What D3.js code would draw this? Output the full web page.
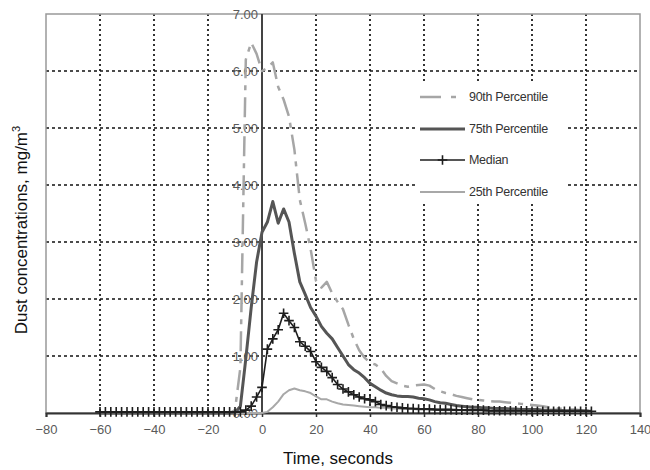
<!DOCTYPE html>
<html>
<head>
<meta charset="utf-8">
<script src="https://cdn.jsdelivr.net/npm/d3@7"></script>
<style>
  html, body { margin: 0; padding: 0; background: #fff; }
  svg { display: block; font-family: "Liberation Sans", Arial, sans-serif; }
</style>
</head>
<body>
<svg id="chart" width="650" height="470"></svg>
<script>
// ---- data ----
const times = [
  -60,-58,-56,-54,-52,-50,-48,-46,-44,-42,
  -40,-38,-36,-34,-32,-30,-28,-26,-24,-22,
  -20,-18,-16,-14,-12,-10,-8,-6,-4,-2,
  0,2,4,6,8,10,12,14,16,18,
  20,22,24,26,28,30,32,34,36,38,
  40,42,44,46,48,50,52,54,56,58,
  60,62,64,66,68,70,72,74,76,78,
  80,82,84,86,88,90,92,94,96,98,
  100,102,104,106,108,110,112,114,116,118,
  120,122
];
const p90 = [
  0,0,0,0,0,0,0,0,0,0,
  0,0,0,0,0,0,0,0,0,0,
  0,0,0,0,0,0.05,0.8,6.2,6.5,6.3,
  6.0,6.05,6.15,5.72,5.5,5.2,4.62,3.74,3.33,2.88,
  2.32,2.2,2.3,2.1,1.95,1.82,1.55,1.3,1.1,0.97,
  0.88,0.85,0.78,0.65,0.56,0.52,0.48,0.46,0.48,0.49,
  0.5,0.48,0.42,0.38,0.35,0.33,0.3,0.28,0.26,0.24,
  0.23,0.22,0.21,0.2,0.2,0.19,0.18,0.17,0.16,0.15,
  0.14,0.13,0.12,0.1,0.09,0.08,0.07,0.06,0.06,0.05,
  0.05,0.04
];
const p75 = [
  0,0,0,0,0,0,0,0,0,0,
  0,0,0,0,0,0,0,0,0,0,
  0,0,0,0,0,0.01,0.12,0.95,1.85,2.65,
  3.17,3.35,3.71,3.33,3.58,3.35,2.8,2.3,2.08,1.85,
  1.7,1.52,1.4,1.3,1.15,1.0,0.85,0.76,0.7,0.62,
  0.52,0.46,0.4,0.35,0.32,0.3,0.29,0.29,0.28,0.26,
  0.25,0.23,0.2,0.18,0.17,0.15,0.13,0.12,0.11,0.1,
  0.1,0.09,0.09,0.08,0.08,0.08,0.07,0.07,0.06,0.06,
  0.06,0.06,0.05,0.05,0.05,0.05,0.04,0.04,0.04,0.04,
  0.03,0.03
];
const median = [
  0.02,0.02,0.02,0.02,0.02,0.02,0.02,0.02,0.02,0.02,
  0.02,0.02,0.02,0.02,0.02,0.02,0.02,0.02,0.02,0.02,
  0.02,0.02,0.02,0.02,0.02,0.02,0.02,0.05,0.12,0.28,
  0.45,1.12,1.3,1.46,1.75,1.62,1.5,1.25,1.17,1.08,
  0.9,0.8,0.73,0.62,0.5,0.42,0.37,0.32,0.28,0.25,
  0.23,0.2,0.15,0.13,0.11,0.1,0.09,0.08,0.08,0.07,
  0.07,0.07,0.06,0.06,0.06,0.06,0.05,0.05,0.05,0.05,
  0.05,0.05,0.04,0.04,0.04,0.04,0.04,0.04,0.04,0.04,
  0.03,0.03,0.03,0.03,0.03,0.03,0.03,0.03,0.03,0.03,
  0.03,0.03
];
const p25 = [
  0,0,0,0,0,0,0,0,0,0,
  0,0,0,0,0,0,0,0,0,0,
  0,0,0,0,0,0,0,0,0,0,
  0,0.02,0.1,0.2,0.33,0.4,0.43,0.4,0.38,0.35,
  0.29,0.24,0.24,0.2,0.17,0.15,0.14,0.13,0.12,0.11,
  0.1,0.1,0.09,0.09,0.08,0.08,0.07,0.07,0.07,0.06,
  0.06,0.06,0.06,0.05,0.05,0.05,0.05,0.05,0.04,0.04,
  0.04,0.04,0.04,0.04,0.04,0.04,0.04,0.04,0.04,0.04,
  0.03,0.03,0.03,0.03,0.03,0.03,0.03,0.03,0.03,0.03,
  0.03,0.03
];
const xTicks = [-80,-60,-40,-20,0,20,40,60,80,100,120,140];
const yTicks = [0,1,2,3,4,5,6,7];
const seriesNames = ["90th Percentile","75th Percentile","Median","25th Percentile"];
const xTitle = "Time, seconds";
const yTitle = "Dust concentrations, mg/m";

// ---- layout ----
const svg = d3.select("#chart");
const L = 46, R = 640, T = 14, B = 413;
const x = d3.scaleLinear().domain([-80, 140]).range([L, R]);
const y = d3.scaleLinear().domain([0, 7]).range([B, T]);

// grid
const grid = svg.append("g");
grid.selectAll("line.v").data(xTicks.filter(d => d !== -80 && d !== 0 && d !== 140))
  .enter().append("line")
  .attr("x1", d => x(d)).attr("x2", d => x(d))
  .attr("y1", y(7)).attr("y2", y(0))
  .attr("stroke", "#111").attr("stroke-width", 1.7).attr("stroke-dasharray", "2,3");
grid.selectAll("line.h").data(yTicks.filter(d => d > 0 && d < 7))
  .enter().append("line")
  .attr("x1", x(-80)).attr("x2", x(140))
  .attr("y1", d => y(d)).attr("y2", d => y(d))
  .attr("stroke", "#111").attr("stroke-width", 1.7).attr("stroke-dasharray", "3,3");

// frame
svg.append("rect").attr("x", L).attr("y", T).attr("width", R - L).attr("height", B - T)
  .attr("fill", "none").attr("stroke", "#999").attr("stroke-width", 1.5);

// y tick labels along x = 0
svg.append("g").selectAll("text").data(yTicks).enter().append("text")
  .attr("x", x(0) - 4).attr("y", d => y(d)).attr("dy", "0.35em")
  .attr("text-anchor", "end").attr("font-size", 13).attr("fill", "#5a5a5a")
  .text(d => d3.format(".2f")(d));

// x axis
const xAxis = svg.append("g").attr("transform", `translate(0,${y(0)})`)
  .call(d3.axisBottom(x).tickValues(xTicks).tickSize(4).tickPadding(8).tickFormat(d3.format("d")));
xAxis.select(".domain").attr("stroke", "#333").attr("stroke-width", 2);
xAxis.selectAll(".tick line").attr("stroke", "#333").attr("stroke-width", 1.5);
xAxis.selectAll(".tick text").attr("font-size", 13).attr("fill", "#5a5a5a")
  .attr("font-family", "Liberation Sans, Arial, sans-serif");

// legend background
const lg = svg.append("g");
lg.append("rect").attr("x", 416).attr("y", 82).attr("width", 150).attr("height", 122).attr("fill", "#fff");

// y axis line at x=0
svg.append("line").attr("x1", x(0)).attr("x2", x(0)).attr("y1", y(7)).attr("y2", y(0))
  .attr("stroke", "#444").attr("stroke-width", 2);

// data
const rows = times.map((t, i) => ({t, p90: p90[i], p75: p75[i], med: median[i], p25: p25[i]}));
const mk = key => d3.line().x(d => x(d.t)).y(d => y(d[key]));

const styles = {
  p90: {stroke: "#a6a6a6", width: 2.5, dash: "20,7,5,7"},
  p75: {stroke: "#555555", width: 3, dash: null},
  med: {stroke: "#1e1e1e", width: 1.6, dash: null},
  p25: {stroke: "#a8a8a8", width: 2, dash: null}
};
["p25", "p90", "p75", "med"].forEach(k => {
  svg.append("path").datum(rows).attr("d", mk(k))
    .attr("fill", "none").attr("stroke", styles[k].stroke)
    .attr("stroke-width", styles[k].width)
    .attr("stroke-linejoin", "round")
    .attr("stroke-dasharray", styles[k].dash);
});
// median cross markers
const cs = 4.8;
svg.append("g").selectAll("path").data(rows).enter().append("path")
  .attr("d", d => `M${x(d.t) - cs},${y(d.med)}H${x(d.t) + cs}M${x(d.t)},${y(d.med) - cs}V${y(d.med) + cs}`)
  .attr("stroke", "#1e1e1e").attr("stroke-width", 1.6).attr("fill", "none");

// legend
const legY = [97, 129, 160, 192];
const keys = ["p90", "p75", "med", "p25"];
keys.forEach((k, i) => {
  const g = lg.append("g");
  g.append("line").attr("x1", 420).attr("x2", 465).attr("y1", legY[i]).attr("y2", legY[i])
    .attr("stroke", styles[k].stroke).attr("stroke-width", styles[k].width)
    .attr("stroke-dasharray", k === "p90" ? "21,10,5,10" : null);
  if (k === "med") {
    g.append("path").attr("d", `M${442.5 - cs},${legY[i]}H${442.5 + cs}M442.5,${legY[i] - cs}V${legY[i] + cs}`)
      .attr("stroke", "#1e1e1e").attr("stroke-width", 1.6);
  }
  g.append("text").attr("x", 469).attr("y", legY[i]).attr("dy", "0.35em")
    .attr("font-size", 12.5).attr("fill", "#333").attr("letter-spacing", "-0.3")
    .text(seriesNames[i]);
});

// axis titles
svg.append("text").attr("x", 338).attr("y", 464).attr("text-anchor", "middle")
  .attr("font-size", 17).attr("fill", "#111").text(xTitle);
const yt = svg.append("text").attr("transform", `translate(27,230) rotate(-90)`)
  .attr("text-anchor", "middle").attr("font-size", 17).attr("fill", "#111");
yt.append("tspan").text(yTitle);
yt.append("tspan").attr("dy", -7).attr("font-size", 11).text("3");
</script>
</body>
</html>
